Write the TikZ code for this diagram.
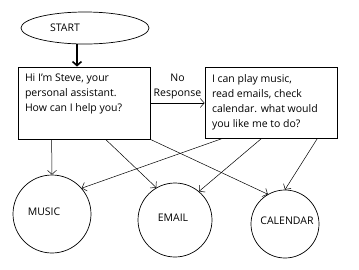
\documentclass[tikz,border=0pt]{standalone}
\usepackage{fontspec}
\setmainfont{Open Sans}
\usetikzlibrary{positioning, shapes.geometric, arrows.meta}

\begin{document}
\begin{tikzpicture}[x=1pt, y=-1pt, font=\fontsize{10.5}{15}\selectfont,
  box/.style={draw, rectangle, line width=0.8pt, minimum width=132pt, minimum height=72pt, inner sep=0pt},
  bubble/.style={draw, circle, line width=0.7pt, inner sep=0pt},
  link/.style={-{Straight Barb[length=4pt, width=9pt]}, line width=0.5pt}]
  \useasboundingbox (0,0) rectangle (359,269);

  \node[ellipse, draw, line width=0.7pt, minimum width=128pt, minimum height=32pt,
        label={[xshift=-20pt]center:START}] (start) at (85,28) {};
  \node[box] (greet) at (84,103) {\parbox[c][58pt][t]{118pt}{Hi I'm Steve, your\\ personal assistant.\\ How can I help you?}};
  \node[box, minimum height=71pt] (offer) at (271,102.5) {\parbox[c][58pt][c]{118pt}{I can play music,\\ read emails, check\\ calendar. what would\\ you like me to do?}};

  \node[bubble, minimum size=78pt, label={[xshift=-8pt, yshift=2pt]center:MUSIC}] (music) at (52,214) {};
  \node[bubble, minimum size=74pt, label={[xshift=-2pt, yshift=2pt]center:EMAIL}] (email) at (175,220) {};
  \node[bubble, minimum size=68pt, label={[xshift=2pt, yshift=3pt]center:CALENDAR}] (calendar) at (285,224) {};

  \draw[line width=1.6pt, -{Straight Barb[length=4pt, width=9pt]}] ([xshift=-8pt]start.south) -- ([xshift=-8pt]start.south |- greet.north);
  \draw[link] (greet.east) -- node[above, align=center] {No\\Response} (greet.east -| offer.west);

  \draw[link] ([xshift=34pt]greet.south west) -- (music.north);
  \draw[link] ([xshift=88pt]greet.south west) -- (email.120);
  \draw[link] (greet.south east) -- (calendar.120);
  \draw[link] ([xshift=18pt]offer.south west) -- (music.41);
  \draw[link] ([xshift=57pt]offer.south west) -- (email.50);
  \draw[link] ([xshift=-20pt]offer.south east) -- (calendar.north);
\end{tikzpicture}
\end{document}
